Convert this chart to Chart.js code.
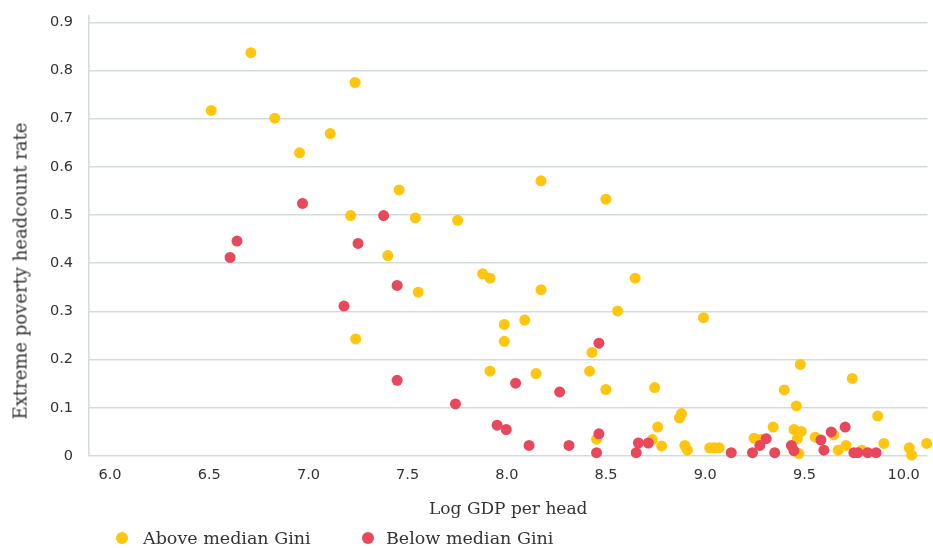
<!DOCTYPE html>
<html>
<head>
<meta charset="utf-8">
<script src="https://cdn.jsdelivr.net/npm/chart.js@4/dist/chart.umd.min.js"></script>
<style>
  body { margin: 0; background: #fff; }
  #wrap { position: relative; width: 933px; height: 548px; }
  #legend { position: absolute; left: 0; top: 527px; height: 22px; font: 17.5px "DejaVu Serif", serif; color: #333; }
  #legend span.item { position: absolute; white-space: nowrap; top: 0; line-height: 22px; }
  #legend span.dot { position: absolute; width: 12px; height: 12px; border-radius: 50%; top: 5px; }
  #ytitle { position: absolute; left: 20px; top: 271px; white-space: nowrap; font: 18px "DejaVu Serif", serif; color: #333;
    transform: translate(-50%, -50%) rotate(-90deg); }
</style>
</head>
<body>
<div id="wrap">
  <canvas id="chart"></canvas>
  <div id="ytitle">Extreme poverty headcount rate</div>
  <div id="legend">
    <span class="dot" style="left:116px;background:#ffc60d"></span>
    <span class="item" style="left:143px">Above median Gini</span>
    <span class="dot" style="left:362px;background:#e8485c"></span>
    <span class="item" style="left:386px">Below median Gini</span>
  </div>
</div>
<script>
// series: above / below median Gini (log GDP per head, poverty rate)
const aboveGdp = [6.51, 6.71, 6.83, 6.955, 7.11, 7.235, 7.213, 7.238, 7.40, 7.457, 7.539, 7.553, 7.752, 7.878, 7.915, 7.915,
  7.987, 7.987, 8.09, 8.147, 8.172, 8.172, 8.417, 8.429, 8.452, 8.499, 8.499, 8.558, 8.647, 8.733, 8.745, 8.76, 8.78,
  8.87, 8.88, 8.897, 8.91, 8.991, 9.022, 9.045, 9.07, 9.246, 9.28, 9.342, 9.398, 9.447, 9.459, 9.464, 9.472, 9.479,
  9.484, 9.554, 9.648, 9.67, 9.709, 9.741, 9.79, 9.869, 9.9, 10.028, 10.04, 10.116];
const abovePoverty = [0.717, 0.837, 0.701, 0.629, 0.669, 0.775, 0.499, 0.243, 0.416, 0.552, 0.494, 0.340, 0.489, 0.378, 0.369, 0.176,
  0.273, 0.238, 0.282, 0.171, 0.571, 0.345, 0.176, 0.215, 0.035, 0.533, 0.138, 0.301, 0.369, 0.034, 0.142, 0.060, 0.021,
  0.079, 0.088, 0.022, 0.012, 0.287, 0.017, 0.017, 0.017, 0.037, 0.034, 0.060, 0.137, 0.055, 0.104, 0.036, 0.005, 0.190,
  0.051, 0.039, 0.044, 0.012, 0.022, 0.161, 0.012, 0.083, 0.026, 0.017, 0.002, 0.026];

const belowGdp = [6.605, 6.64, 6.97, 7.179, 7.25, 7.379, 7.447, 7.447, 7.741, 7.951, 7.997, 8.044, 8.112, 8.266, 8.313,
  8.452, 8.464, 8.464, 8.652, 8.663, 8.713, 9.131, 9.238, 9.275, 9.307, 9.35, 9.434, 9.447, 9.583, 9.598, 9.635,
  9.705, 9.749, 9.769, 9.819, 9.861];
const belowPoverty = [0.412, 0.446, 0.524, 0.311, 0.441, 0.499, 0.354, 0.157, 0.108, 0.064, 0.055, 0.151, 0.022, 0.133, 0.022,
  0.007, 0.046, 0.234, 0.007, 0.027, 0.027, 0.007, 0.007, 0.022, 0.036, 0.007, 0.022, 0.011, 0.033, 0.012, 0.050,
  0.060, 0.007, 0.007, 0.007, 0.007];

const xTicks = [6.0, 6.5, 7.0, 7.5, 8.0, 8.5, 9.0, 9.5, 10.0];
const yTicks = [0, 0.1, 0.2, 0.3, 0.4, 0.5, 0.6, 0.7, 0.8, 0.9];

const toPoints = (xs, ys) => xs.map((x, i) => ({ x: x, y: ys[i] }));

const textColor = '#333333';
const gridColor = '#d4dbdb';

new Chart(document.getElementById('chart').getContext('2d'), {
  type: 'scatter',
  data: {
    datasets: [{
      label: 'Above median Gini',
      data: toPoints(aboveGdp, abovePoverty),
      backgroundColor: '#ffc60d',
      borderWidth: 0,
      pointRadius: 5.5,
      pointHoverRadius: 5.5,
      order: 1,
      clip: false
    }, {
      label: 'Below median Gini',
      data: toPoints(belowGdp, belowPoverty),
      backgroundColor: '#e8485c',
      borderWidth: 0,
      pointRadius: 5.5,
      pointHoverRadius: 5.5,
      order: 0,
      clip: false
    }]
  },
  options: {
    responsive: true,
    maintainAspectRatio: false,
    animation: false,
    layout: { padding: { top: 16, right: 3, bottom: 24, left: 0 } },
    plugins: {
      legend: { display: false },
      tooltip: { enabled: false }
    },
    scales: {
      x: {
        type: 'linear',
        min: 5.894,
        max: 10.12,
        afterFit: function(scale) { scale.height = 68; },
        afterBuildTicks: function(scale) { scale.ticks = xTicks.map(v => ({ value: v })); },
        grid: { display: false, drawTicks: false },
        border: { display: false },
        ticks: {
          padding: 11,
          color: textColor,
          font: { family: 'DejaVu Sans', size: 14.5 },
          callback: v => v.toFixed(1)
        },
        title: {
          display: true,
          align: 'center',
          text: 'Log GDP per head',
          color: textColor,
          font: { family: 'DejaVu Serif', size: 17 },
          padding: { top: 4, bottom: 4 }
        }
      },
      y: {
        min: 0,
        max: 0.913,
        afterFit: function(scale) {
          scale.width = 89;
          scale.paddingTop = 0;
          scale.paddingBottom = 0;
        },
        afterBuildTicks: function(scale) { scale.ticks = yTicks.map(v => ({ value: v })); },
        grid: { color: gridColor, lineWidth: 1.5, drawTicks: false },
        border: { display: true, color: gridColor, width: 1.5 },
        ticks: {
          padding: 16,
          color: textColor,
          font: { family: 'DejaVu Sans', size: 14.5 },
          callback: v => v === 0 ? '0' : v.toFixed(1)
        },
        title: { display: false }
      }
    }
  }
});
</script>
</body>
</html>
